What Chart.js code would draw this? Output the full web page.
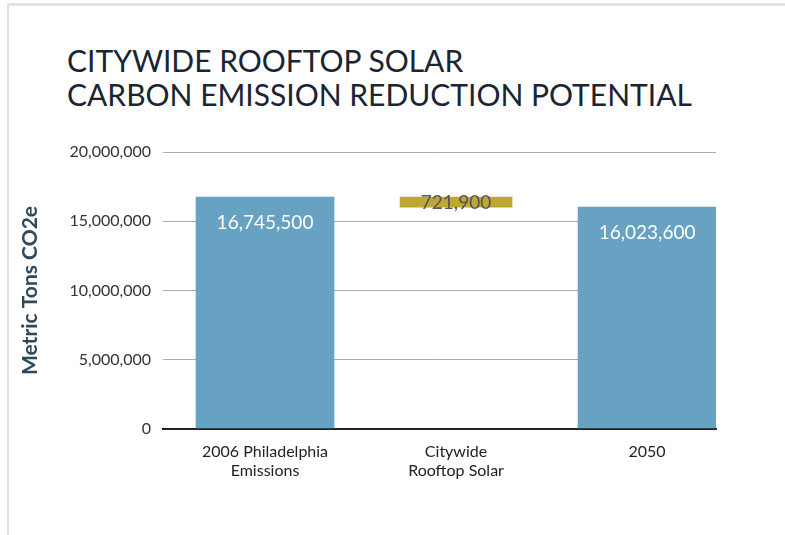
<!DOCTYPE html>
<html>
<head>
<meta charset="utf-8">
<script src="https://cdn.jsdelivr.net/npm/chart.js@4"></script>
<style>
    html, body { margin: 0; padding: 0; background: #fff; }
    #wrap { position: relative; width: 785px; height: 535px; overflow: hidden; }
    #frame {
        position: absolute; left: 7px; top: 3px; right: 0; bottom: 0;
        border-left: 2px solid #e2e2e2; border-top: 3px solid #e2e2e2;
    }
    #title {
        position: absolute; left: 67px; top: 43px;
        font-family: Lato, sans-serif; font-size: 30px; line-height: 34px;
        color: #1b2433; letter-spacing: 0;
    }
    canvas { position: absolute; left: 0; top: 0; }
</style>
</head>
<body>
<div id="wrap">
    <div id="frame"></div>
    <div id="title">CITYWIDE ROOFTOP SOLAR<br>CARBON EMISSION REDUCTION POTENTIAL</div>
    <canvas id="chart" width="785" height="535"></canvas>
</div>
<script>
// データ
const categories = [['2006 Philadelphia', 'Emissions'], ['Citywide', 'Rooftop Solar'], ['2050']];
const totals = [16745500, null, 16023600];   // 棒グラフ（合計）
const reduction = 721900;                    // 屋上太陽光による削減量
const yTicks = [0, 5000000, 10000000, 15000000, 20000000];

const blueColor = '#67a2c3';
const goldColor = '#bea831';

// 数値をフォーマット
function formatNumber(v) {
    return v.toLocaleString('en-US');
}

// 棒の中にラベルを描く
const barLabels = {
    id: 'barLabels',
    afterDatasetsDraw(chart) {
        const ctx = chart.ctx;
        ctx.save();
        ctx.textAlign = 'center';
        ctx.textBaseline = 'middle';
        ctx.font = '19px Lato, sans-serif';

        // 合計（青）
        chart.getDatasetMeta(0).data.forEach((bar, i) => {
            const raw = chart.data.datasets[0].data[i];
            ctx.fillStyle = '#ffffff';
            ctx.fillText(formatNumber(raw.y), bar.x, bar.y + 26);
        });

        // 削減量（金）
        chart.getDatasetMeta(1).data.forEach(bar => {
            ctx.fillStyle = '#555555';
            ctx.fillText(formatNumber(reduction), bar.x, (bar.y + bar.base) / 2 + 1);
        });
        ctx.restore();
    }
};

const ctx = document.getElementById('chart').getContext('2d');
new Chart(ctx, {
    type: 'bar',
    data: {
        datasets: [
            {
                data: totals.map((v, i) => ({ x: i, y: v })).filter(d => d.y !== null),
                backgroundColor: blueColor,
                barThickness: 138,
                order: 2
            },
            {
                data: [{ x: 1, y: [totals[0] - reduction, totals[0]] }],
                backgroundColor: goldColor,
                barThickness: 112,
                order: 1
            }
        ]
    },
    options: {
        responsive: false,
        animation: false,
        events: [],
        layout: { padding: { left: 0, right: 69, top: 152, bottom: 0 } },
        plugins: {
            legend: { display: false },
            tooltip: { enabled: false }
        },
        datasets: { bar: { grouped: false } },
        scales: {
            x: {
                type: 'linear',
                offset: false,
                min: -0.534,
                max: 2.361,
                afterBuildTicks: scale => {
                    scale.ticks = categories.map((c, i) => ({ value: i }));
                },
                afterFit: scale => { scale.height = 106; },
                ticks: {
                    callback: v => categories[v],
                    color: '#222',
                    font: { family: 'Lato', size: 16 },
                    padding: 13,
                    maxRotation: 0,
                    autoSkip: false
                },
                grid: { display: false, drawTicks: false },
                border: { display: true, color: '#222', width: 2 }
            },
            y: {
                min: 0,
                max: 20000000,
                afterBuildTicks: scale => {
                    scale.ticks = yTicks.map(v => ({ value: v }));
                },
                afterFit: scale => { scale.width = 163; },
                ticks: {
                    callback: v => formatNumber(v),
                    color: '#333',
                    font: { family: 'Lato', size: 16 },
                    padding: 12
                },
                grid: {
                    drawTicks: false,
                    color: c => c.tick.value === 0 ? '#222' : '#aaaaaa',
                    lineWidth: c => c.tick.value === 0 ? 2 : 1
                },
                border: { display: false },
                title: {
                    display: true,
                    text: 'Metric Tons CO2e',
                    color: '#2e4a5a',
                    font: { family: 'Lato', size: 21, weight: 'bold' },
                    padding: { top: 18, bottom: 0 }
                }
            }
        }
    },
    plugins: [barLabels]
});
</script>
</body>
</html>
